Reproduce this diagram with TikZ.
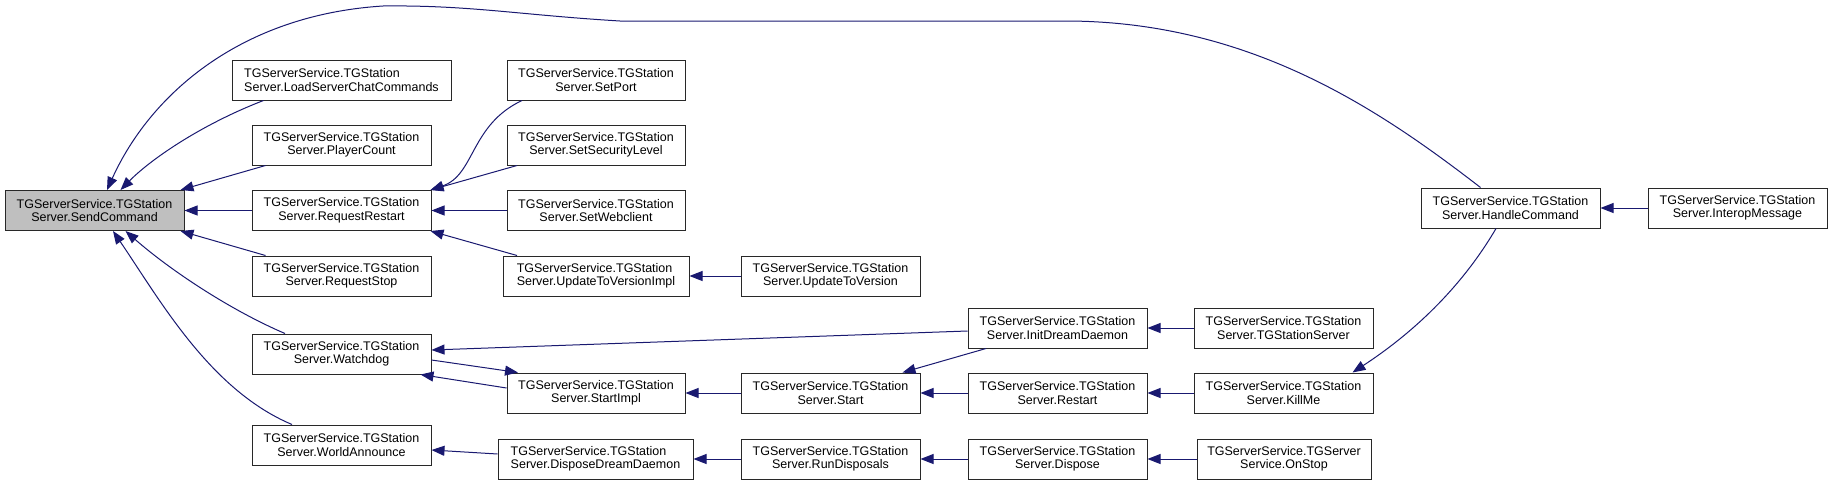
\documentclass[tikz,border=0pt]{standalone}
\usepackage{fontspec}
\setmainfont{Liberation Sans}
\usetikzlibrary{arrows.meta}
\definecolor{edgeblue}{RGB}{25,25,112}
\definecolor{boxgray}{RGB}{191,191,191}
\definecolor{boxline}{RGB}{40,40,40}
\tikzset{
  fn/.style={draw=boxline, line width=1pt, fill=white, minimum height=40pt, minimum width=179pt,
    inner sep=0pt, align=center, font=\fontsize{12.5}{13.5}\selectfont},
  fnl/.style={fn, align=left},
  cur/.style={fn, fill=boxgray},
  edge/.style={draw=edgeblue, line width=1pt, -{Triangle[length=13pt,width=10pt]}},
}
\begin{document}
\begin{tikzpicture}[x=1pt, y=-1pt]
\useasboundingbox (0,0) rectangle (1832,485);
% column 1
\node[cur] (SC) at (94.5,210.5) {TGServerService.TGStation\\Server.SendCommand};
% column 2
\node[fnl, minimum width=219pt] (LSCC) at (341.5,80) {TGServerService.TGStation\\Server.LoadServerChatCommands};
\node[fn] (PC) at (341.5,145) {TGServerService.TGStation\\Server.PlayerCount};
\node[fn] (RR) at (341.5,210.5) {TGServerService.TGStation\\Server.RequestRestart};
\node[fn] (RS) at (341.5,276) {TGServerService.TGStation\\Server.RequestStop};
\node[fn] (WD) at (341.5,354) {TGServerService.TGStation\\Server.Watchdog};
\node[fn] (WA) at (341.5,445) {TGServerService.TGStation\\Server.WorldAnnounce};
% column 3
\node[fn, minimum width=178pt] (SP) at (596,80) {TGServerService.TGStation\\Server.SetPort};
\node[fn, minimum width=178pt] (SSL) at (596,145) {TGServerService.TGStation\\Server.SetSecurityLevel};
\node[fn, minimum width=178pt] (SW) at (596,210.5) {TGServerService.TGStation\\Server.SetWebclient};
\node[fnl, minimum width=186pt] (UTVI) at (596,276) {TGServerService.TGStation\\Server.UpdateToVersionImpl};
\node[fn, minimum width=178pt] (SI) at (596,393) {TGServerService.TGStation\\Server.StartImpl};
\node[fnl, minimum width=195pt] (DDD) at (595.5,459) {TGServerService.TGStation\\Server.DisposeDreamDaemon};
% column 4
\node[fn] (UTV) at (830.5,276) {TGServerService.TGStation\\Server.UpdateToVersion};
\node[fn] (ST) at (830.5,393) {TGServerService.TGStation\\Server.Start};
\node[fn] (RD) at (830.5,459) {TGServerService.TGStation\\Server.RunDisposals};
% column 5
\node[fn] (IDD) at (1057.5,328) {TGServerService.TGStation\\Server.InitDreamDaemon};
\node[fn] (RSt) at (1057.5,393) {TGServerService.TGStation\\Server.Restart};
\node[fn] (DP) at (1057.5,459) {TGServerService.TGStation\\Server.Dispose};
% column 6
\node[fn] (TGS) at (1283.5,328) {TGServerService.TGStation\\Server.TGStationServer};
\node[fn] (KM) at (1283.5,393) {TGServerService.TGStation\\Server.KillMe};
\node[fn, minimum width=174pt] (OS) at (1284,459) {TGServerService.TGServer\\Service.OnStop};
% column 7, 8
\node[fn] (HC) at (1510.5,208) {TGServerService.TGStation\\Server.HandleCommand};
\node[fn] (IM) at (1737.5,208) {TGServerService.TGStation\\Server.InteropMessage};

% edges into SendCommand
\draw[edge] ([xshift=-30pt]HC.north) .. controls (1380,110) and (1250,21) .. (1065,21)
  -- (620,21) .. controls (520,15) and (470,5) .. (383,6)
  .. controls (240,15) and (150,95) .. ([xshift=12.5pt]SC.north);
\draw[edge] ([xshift=-78pt]LSCC.south) .. controls (200,125) and (150,160) .. ([xshift=26pt]SC.north);
\draw[edge] ([xshift=-76pt]PC.south) -- ([xshift=-4pt]SC.north east);
\draw[edge] (RR.west) -- (SC.east);
\draw[edge] ([xshift=-76pt]RS.north) -- ([xshift=-4pt]SC.south east);
\draw[edge] ([xshift=-56.5pt]WD.north) .. controls (230,310) and (170,270) .. ([xshift=31pt]SC.south);
\draw[edge] ([xshift=-49.5pt]WA.north) .. controls (210,390) and (160,300) .. ([xshift=18.5pt]SC.south);
% edges into RequestRestart
\draw[edge] ([xshift=-74pt]SP.south) .. controls (470,125) and (475,175) .. ([xshift=-1pt]RR.north east);
\draw[edge] ([xshift=-79pt]SSL.south) -- ([xshift=-1pt]RR.north east);
\draw[edge] (SW.west) -- (RR.east);
\draw[edge] ([xshift=-79pt]UTVI.north) -- ([xshift=-1pt]RR.south east);
\draw[edge] (UTV.west) -- (UTVI.east);
% Watchdog / StartImpl
\draw[edge] ([yshift=-3pt]IDD.west) -- ([yshift=4pt]WD.east);
\draw[edge] ([yshift=-6pt]WD.east) -- ([xshift=-78pt]SI.north);
\draw[edge] ([yshift=5pt]SI.west) -- ([xshift=-11pt]WD.south east);
\draw[edge] (ST.west) -- (SI.east);
\draw[edge] ([xshift=-71.5pt]IDD.south) -- ([xshift=-18pt]ST.north east);
\draw[edge] (RSt.west) -- (ST.east);
\draw[edge] (TGS.west) -- (IDD.east);
\draw[edge] (KM.west) -- (RSt.east);
\draw[edge] ([xshift=-14.5pt]HC.south) .. controls (1460,290) and (1410,335) .. ([xshift=-21pt]KM.north east);
\draw[edge] (IM.west) -- (HC.east);
% dispose chain
\draw[edge] ([yshift=5pt]DDD.west) -- ([yshift=-5pt]WA.east);
\draw[edge] (RD.west) -- (DDD.east);
\draw[edge] (DP.west) -- (RD.east);
\draw[edge] (OS.west) -- (DP.east);
\end{tikzpicture}
\end{document}
